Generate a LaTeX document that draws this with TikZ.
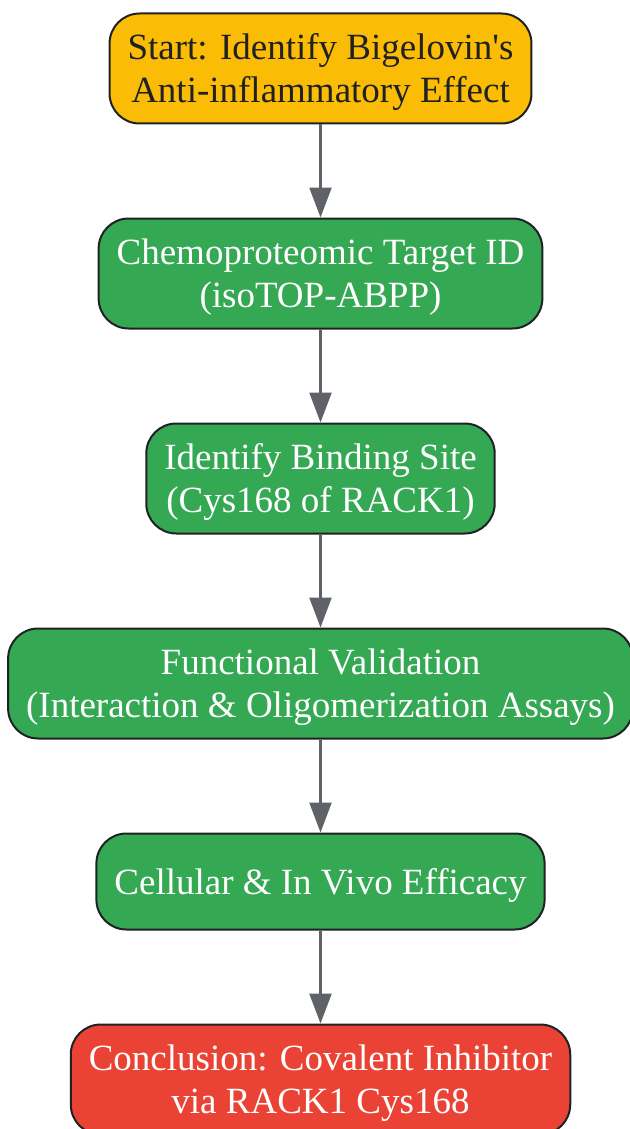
\documentclass[tikz,border=0pt]{standalone}
\usepackage{fontspec}
\setmainfont{Liberation Serif}
\usepackage{tikz}
\usetikzlibrary{arrows.meta, positioning}

\definecolor{startyellow}{HTML}{FBBC05}
\definecolor{stepgreen}{HTML}{34A853}
\definecolor{endred}{HTML}{EA4335}
\definecolor{edgegray}{HTML}{5F6368}
\definecolor{borderdark}{HTML}{202124}

\tikzset{
    box/.style={draw=borderdark, line width=2pt, rounded corners=30pt, align=center,
        inner xsep=18pt, font=\fontsize{37}{43}\selectfont},
    twoline/.style={box, minimum height=110pt, text height=76pt, text depth=8pt},
    oneline/.style={box, minimum height=96pt, text height=33pt, text depth=8pt},
    flow/.style={draw=edgegray, line width=2.5pt, -{Triangle[width=22pt, length=30pt]}}
}

\begin{document}
\begin{tikzpicture}[x=1pt, y=-1pt, node distance=93pt]
    \useasboundingbox (0,0) rectangle (629,1129);

    % Steps of the workflow
    \node[twoline, fill=startyellow, text=borderdark] (start) at (320.5,68.5)
        {Start: Identify Bigelovin\textquotesingle s\\Anti-inflammatory Effect};
    \node[twoline, fill=stepgreen, text=white, below=of start] (chemo)
        {Chemoproteomic Target ID\\(isoTOP-ABPP)};
    \node[twoline, fill=stepgreen, text=white, below=of chemo] (site)
        {Identify Binding Site\\(Cys168 of RACK1)};
    \node[twoline, fill=stepgreen, text=white, below=of site] (valid)
        {Functional Validation\\(Interaction \& Oligomerization Assays)};
    \node[oneline, fill=stepgreen, text=white, below=of valid] (efficacy)
        {Cellular \& In Vivo Efficacy};
    \node[twoline, fill=endred, text=white, below=of efficacy] (concl)
        {Conclusion: Covalent Inhibitor\\via RACK1 Cys168};

    % Arrows
    \draw[flow] (start) -- (chemo);
    \draw[flow] (chemo) -- (site);
    \draw[flow] (site) -- (valid);
    \draw[flow] (valid) -- (efficacy);
    \draw[flow] (efficacy) -- (concl);
\end{tikzpicture}
\end{document}
